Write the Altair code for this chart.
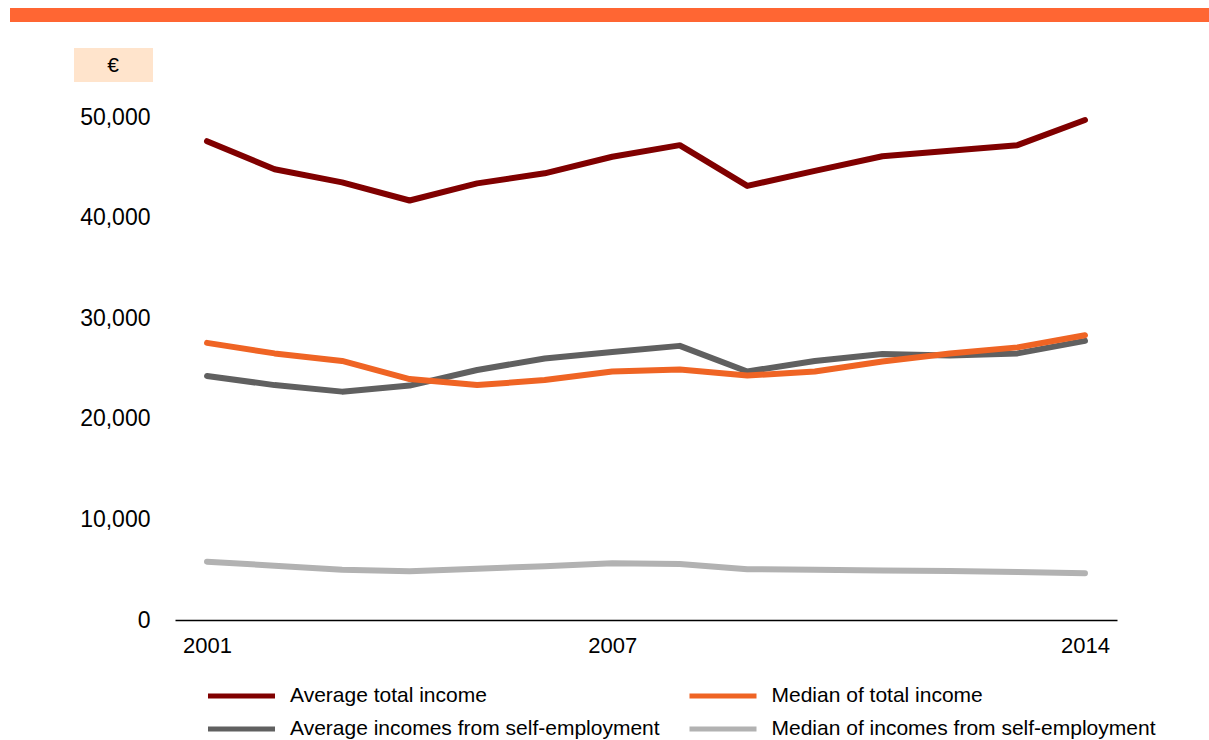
import altair as alt
import pandas as pd

years = list(range(2001, 2015))
avg_total = [47600, 44800, 43500, 41700, 43400, 44400, 46050, 47200, 43150, 44650, 46100, 46650, 47200, 49700]
median_total = [27550, 26500, 25750, 23950, 23350, 23850, 24700, 24900, 24300, 24700, 25700, 26500, 27100, 28300]
avg_self = [24250, 23350, 22700, 23300, 24850, 26000, 26650, 27250, 24700, 25750, 26450, 26300, 26500, 27750]
median_self = [5800, 5400, 5000, 4850, 5100, 5350, 5630, 5570, 5050, 5000, 4930, 4870, 4770, 4650]

names = [
    "Average total income",
    "Average incomes from self-employment",
    "Median of total income",
    "Median of incomes from self-employment",
]
colors = ["#800000", "#606060", "#EF6424", "#B2B2B2"]
series = [avg_total, avg_self, median_total, median_self]
draw_order = [3, 1, 2, 0]

rows = []
for name, vals in zip(names, series):
    for y, v in zip(years, vals):
        rows.append({"year": y, "value": v, "series": name})
df = pd.DataFrame(rows)

FONT = "Liberation Sans"
W, H = 942, 503

x_enc = alt.X("year:Q",
              scale=alt.Scale(domain=[2000.526, 2014.474], nice=False, zero=False),
              axis=alt.Axis(values=[2001, 2007, 2014], format="d", title=None,
                            ticks=False, grid=False, domainColor="#000000",
                            domainWidth=1.5, labelFontSize=22, labelColor="#000000",
                            labelFont=FONT, labelPadding=15))
y_enc = alt.Y("value:Q",
              scale=alt.Scale(domain=[0, 50000], nice=False),
              axis=alt.Axis(values=[0, 10000, 20000, 30000, 40000, 50000], format=",d",
                            title=None, ticks=False, grid=False, domain=False,
                            labelFontSize=23, labelColor="#000000", labelFont=FONT,
                            labelPadding=25))
color_enc = alt.Color("series:N",
                      scale=alt.Scale(domain=names, range=colors),
                      legend=alt.Legend(title=None, orient="none", legendX=52.5, legendY=565,
                                        columns=2, symbolType="M-3,0H3", symbolSize=499,
                                        symbolStrokeWidth=5, labelFontSize=21,
                                        labelFont=FONT, labelColor="#000000",
                                        labelOffset=34.5, labelLimit=500, columnPadding=18.5,
                                        rowPadding=9))

layers = []
for i in draw_order:
    name = names[i]
    layers.append(
        alt.Chart(df).transform_filter(alt.datum.series == name)
        .mark_line(strokeWidth=6, strokeCap="round", strokeJoin="round")
        .encode(x=x_enc, y=y_enc, color=color_enc)
    )

one = alt.Data(values=[{"a": 1}])
bar = alt.Chart(one).mark_rect(color="#FF6633").encode(
    x=alt.value(-165), x2=alt.value(1040), y=alt.value(-109), y2=alt.value(-95))
box = alt.Chart(one).mark_rect(color="#FFE4CC").encode(
    x=alt.value(-101), x2=alt.value(-22), y=alt.value(-69), y2=alt.value(-35))
euro = alt.Chart(one).mark_text(font=FONT, fontSize=21, color="#000000",
                                align="center", baseline="middle").encode(
    x=alt.value(-62), y=alt.value(-51), text=alt.value("€"))

chart = alt.layer(bar, box, euro, *layers).properties(
    width=W, height=H,
    autosize=alt.AutoSizeParams(type="none"),
    padding={"left": 175, "top": 117, "right": 92, "bottom": 120},
).configure(background="#FFFFFF").configure_view(strokeWidth=0)

chart.save("out.html", embed_options={"renderer": "svg", "actions": False})
